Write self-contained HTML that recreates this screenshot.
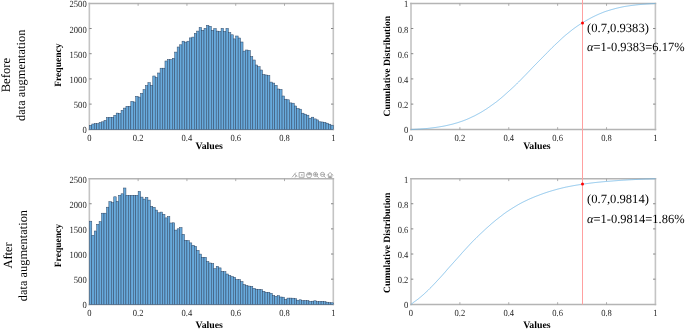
<!DOCTYPE html>
<html><head><meta charset="utf-8"><style>
html,body{margin:0;padding:0;background:#fff;width:685px;height:329px;overflow:hidden}
svg{display:block;text-rendering:geometricPrecision}
#w{width:685px;height:329px}
</style></head><body><div id="w"><svg width="685" height="329" viewBox="0 0 685 329"><rect width="685" height="329" fill="#fff"/><path d="M89.35,2.7V130.3M333.3,2.7V130.3" stroke="#c4c4c4" stroke-width="1.6" fill="none"/><path d="M88.55,3.5H334.1M88.55,129.5H334.1" stroke="#b4b4b4" stroke-width="1.6" fill="none"/><g stroke="#9a9a9a" stroke-width="0.8" fill="none"><line x1="138.14" y1="129.5" x2="138.14" y2="127.2"/><line x1="138.14" y1="3.5" x2="138.14" y2="5.8"/><line x1="186.93" y1="129.5" x2="186.93" y2="127.2"/><line x1="186.93" y1="3.5" x2="186.93" y2="5.8"/><line x1="235.72" y1="129.5" x2="235.72" y2="127.2"/><line x1="235.72" y1="3.5" x2="235.72" y2="5.8"/><line x1="284.51" y1="129.5" x2="284.51" y2="127.2"/><line x1="284.51" y1="3.5" x2="284.51" y2="5.8"/></g><g stroke="#858585" stroke-width="1" fill="none"><line x1="89.35" y1="104.1" x2="91.65" y2="104.1"/><line x1="333.3" y1="104.1" x2="331" y2="104.1"/><line x1="89.35" y1="78.9" x2="91.65" y2="78.9"/><line x1="333.3" y1="78.9" x2="331" y2="78.9"/><line x1="89.35" y1="53.7" x2="91.65" y2="53.7"/><line x1="333.3" y1="53.7" x2="331" y2="53.7"/><line x1="89.35" y1="28.5" x2="91.65" y2="28.5"/><line x1="333.3" y1="28.5" x2="331" y2="28.5"/></g><g font-family='"Liberation Serif", "Times New Roman", serif' font-size="9.4" fill="#262626"><text transform="translate(86.65,133.3) scale(0.91,1)" text-anchor="end">0</text><text transform="translate(86.65,108.1) scale(0.91,1)" text-anchor="end">500</text><text transform="translate(86.65,82.9) scale(0.91,1)" text-anchor="end">1000</text><text transform="translate(86.65,57.7) scale(0.91,1)" text-anchor="end">1500</text><text transform="translate(86.65,32.5) scale(0.91,1)" text-anchor="end">2000</text><text transform="translate(86.65,7.3) scale(0.91,1)" text-anchor="end">2500</text><text transform="translate(89.35,140.8) scale(0.91,1)" text-anchor="middle">0</text><text transform="translate(138.14,140.8) scale(0.91,1)" text-anchor="middle">0.2</text><text transform="translate(186.93,140.8) scale(0.91,1)" text-anchor="middle">0.4</text><text transform="translate(235.72,140.8) scale(0.91,1)" text-anchor="middle">0.6</text><text transform="translate(284.51,140.8) scale(0.91,1)" text-anchor="middle">0.8</text><text transform="translate(333.3,140.8) scale(0.91,1)" text-anchor="middle">1</text></g><g fill="#68aadc" stroke="#2e4664" stroke-width="0.5"><rect x="89.35" y="125.4" width="2.44" height="4.1"/><rect x="91.79" y="124" width="2.44" height="5.5"/><rect x="94.23" y="123.6" width="2.44" height="5.9"/><rect x="96.67" y="123.6" width="2.44" height="5.9"/><rect x="99.11" y="122.5" width="2.44" height="7"/><rect x="101.55" y="121.8" width="2.44" height="7.7"/><rect x="103.99" y="120.4" width="2.44" height="9.1"/><rect x="106.43" y="117.6" width="2.44" height="11.9"/><rect x="108.87" y="117.3" width="2.44" height="12.2"/><rect x="111.31" y="117.3" width="2.44" height="12.2"/><rect x="113.75" y="115.3" width="2.44" height="14.2"/><rect x="116.18" y="113.1" width="2.44" height="16.4"/><rect x="118.62" y="113.5" width="2.44" height="16"/><rect x="121.06" y="110.3" width="2.44" height="19.2"/><rect x="123.5" y="108.1" width="2.44" height="21.4"/><rect x="125.94" y="106.3" width="2.44" height="23.2"/><rect x="128.38" y="106.3" width="2.44" height="23.2"/><rect x="130.82" y="101.4" width="2.44" height="28.1"/><rect x="133.26" y="102" width="2.44" height="27.5"/><rect x="135.7" y="96.3" width="2.44" height="33.2"/><rect x="138.14" y="97.1" width="2.44" height="32.4"/><rect x="140.58" y="93.4" width="2.44" height="36.1"/><rect x="143.02" y="89.6" width="2.44" height="39.9"/><rect x="145.46" y="85.6" width="2.44" height="43.9"/><rect x="147.9" y="82.7" width="2.44" height="46.8"/><rect x="150.34" y="85.3" width="2.44" height="44.2"/><rect x="152.78" y="76" width="2.44" height="53.5"/><rect x="155.22" y="77.4" width="2.44" height="52.1"/><rect x="157.66" y="73" width="2.44" height="56.5"/><rect x="160.1" y="68.2" width="2.44" height="61.3"/><rect x="162.53" y="68.2" width="2.44" height="61.3"/><rect x="164.97" y="61" width="2.44" height="68.5"/><rect x="167.41" y="59.6" width="2.44" height="69.9"/><rect x="169.85" y="59.6" width="2.44" height="69.9"/><rect x="172.29" y="58.3" width="2.44" height="71.2"/><rect x="174.73" y="52.1" width="2.44" height="77.4"/><rect x="177.17" y="47" width="2.44" height="82.5"/><rect x="179.61" y="44.8" width="2.44" height="84.7"/><rect x="182.05" y="41.2" width="2.44" height="88.3"/><rect x="184.49" y="42.1" width="2.44" height="87.4"/><rect x="186.93" y="41.2" width="2.44" height="88.3"/><rect x="189.37" y="37.9" width="2.44" height="91.6"/><rect x="191.81" y="37.1" width="2.44" height="92.4"/><rect x="194.25" y="33.4" width="2.44" height="96.1"/><rect x="196.69" y="31.1" width="2.44" height="98.4"/><rect x="199.13" y="27.5" width="2.44" height="102"/><rect x="201.57" y="30.3" width="2.44" height="99.2"/><rect x="204.01" y="28.4" width="2.44" height="101.1"/><rect x="206.45" y="25.3" width="2.44" height="104.2"/><rect x="208.89" y="26.3" width="2.44" height="103.2"/><rect x="211.32" y="30.3" width="2.44" height="99.2"/><rect x="213.76" y="28.6" width="2.44" height="100.9"/><rect x="216.2" y="31.1" width="2.44" height="98.4"/><rect x="218.64" y="31.4" width="2.44" height="98.1"/><rect x="221.08" y="28.4" width="2.44" height="101.1"/><rect x="223.52" y="31.4" width="2.44" height="98.1"/><rect x="225.96" y="28.4" width="2.44" height="101.1"/><rect x="228.4" y="32.7" width="2.44" height="96.8"/><rect x="230.84" y="34.8" width="2.44" height="94.7"/><rect x="233.28" y="38.9" width="2.44" height="90.6"/><rect x="235.72" y="36" width="2.44" height="93.5"/><rect x="238.16" y="38" width="2.44" height="91.5"/><rect x="240.6" y="42" width="2.44" height="87.5"/><rect x="243.04" y="51.1" width="2.44" height="78.4"/><rect x="245.48" y="50" width="2.44" height="79.5"/><rect x="247.92" y="50.5" width="2.44" height="79"/><rect x="250.36" y="56.6" width="2.44" height="72.9"/><rect x="252.8" y="60" width="2.44" height="69.5"/><rect x="255.24" y="65" width="2.44" height="64.5"/><rect x="257.68" y="66.7" width="2.44" height="62.8"/><rect x="260.12" y="70" width="2.44" height="59.5"/><rect x="262.55" y="74.5" width="2.44" height="55"/><rect x="264.99" y="75" width="2.44" height="54.5"/><rect x="267.43" y="75.5" width="2.44" height="54"/><rect x="269.87" y="82.1" width="2.44" height="47.4"/><rect x="272.31" y="83.1" width="2.44" height="46.4"/><rect x="274.75" y="85.3" width="2.44" height="44.2"/><rect x="277.19" y="89" width="2.44" height="40.5"/><rect x="279.63" y="89.4" width="2.44" height="40.1"/><rect x="282.07" y="96" width="2.44" height="33.5"/><rect x="284.51" y="99.2" width="2.44" height="30.3"/><rect x="286.95" y="99.8" width="2.44" height="29.7"/><rect x="289.39" y="102.9" width="2.44" height="26.6"/><rect x="291.83" y="103.2" width="2.44" height="26.3"/><rect x="294.27" y="106" width="2.44" height="23.5"/><rect x="296.71" y="108.5" width="2.44" height="21"/><rect x="299.15" y="109.2" width="2.44" height="20.3"/><rect x="301.59" y="113.2" width="2.44" height="16.3"/><rect x="304.03" y="114.2" width="2.44" height="15.3"/><rect x="306.47" y="115.2" width="2.44" height="14.3"/><rect x="308.9" y="118.2" width="2.44" height="11.3"/><rect x="311.34" y="117.2" width="2.44" height="12.3"/><rect x="313.78" y="118.9" width="2.44" height="10.6"/><rect x="316.22" y="119.9" width="2.44" height="9.6"/><rect x="318.66" y="121.8" width="2.44" height="7.7"/><rect x="321.1" y="122" width="2.44" height="7.5"/><rect x="323.54" y="122.3" width="2.44" height="7.2"/><rect x="325.98" y="123.2" width="2.44" height="6.3"/><rect x="328.42" y="124.2" width="2.44" height="5.3"/><rect x="330.86" y="125.2" width="2.44" height="4.3"/></g><path d="M89.35,178V305.3M333.3,178V305.3" stroke="#c4c4c4" stroke-width="1.6" fill="none"/><path d="M88.55,178.8H334.1M88.55,304.5H334.1" stroke="#b4b4b4" stroke-width="1.6" fill="none"/><g stroke="#9a9a9a" stroke-width="0.8" fill="none"><line x1="138.14" y1="304.5" x2="138.14" y2="302.2"/><line x1="138.14" y1="178.8" x2="138.14" y2="181.1"/><line x1="186.93" y1="304.5" x2="186.93" y2="302.2"/><line x1="186.93" y1="178.8" x2="186.93" y2="181.1"/><line x1="235.72" y1="304.5" x2="235.72" y2="302.2"/><line x1="235.72" y1="178.8" x2="235.72" y2="181.1"/><line x1="284.51" y1="304.5" x2="284.51" y2="302.2"/><line x1="284.51" y1="178.8" x2="284.51" y2="181.1"/></g><g stroke="#858585" stroke-width="1" fill="none"><line x1="89.35" y1="279.16" x2="91.65" y2="279.16"/><line x1="333.3" y1="279.16" x2="331" y2="279.16"/><line x1="89.35" y1="254.02" x2="91.65" y2="254.02"/><line x1="333.3" y1="254.02" x2="331" y2="254.02"/><line x1="89.35" y1="228.88" x2="91.65" y2="228.88"/><line x1="333.3" y1="228.88" x2="331" y2="228.88"/><line x1="89.35" y1="203.74" x2="91.65" y2="203.74"/><line x1="333.3" y1="203.74" x2="331" y2="203.74"/></g><g font-family='"Liberation Serif", "Times New Roman", serif' font-size="9.4" fill="#262626"><text transform="translate(86.65,308.2) scale(0.91,1)" text-anchor="end">0</text><text transform="translate(86.65,283.06) scale(0.91,1)" text-anchor="end">500</text><text transform="translate(86.65,257.92) scale(0.91,1)" text-anchor="end">1000</text><text transform="translate(86.65,232.78) scale(0.91,1)" text-anchor="end">1500</text><text transform="translate(86.65,207.64) scale(0.91,1)" text-anchor="end">2000</text><text transform="translate(86.65,182.5) scale(0.91,1)" text-anchor="end">2500</text><text transform="translate(89.35,315.8) scale(0.91,1)" text-anchor="middle">0</text><text transform="translate(138.14,315.8) scale(0.91,1)" text-anchor="middle">0.2</text><text transform="translate(186.93,315.8) scale(0.91,1)" text-anchor="middle">0.4</text><text transform="translate(235.72,315.8) scale(0.91,1)" text-anchor="middle">0.6</text><text transform="translate(284.51,315.8) scale(0.91,1)" text-anchor="middle">0.8</text><text transform="translate(333.3,315.8) scale(0.91,1)" text-anchor="middle">1</text></g><g fill="#68aadc" stroke="#2e4664" stroke-width="0.5"><rect x="89.35" y="221.2" width="2.44" height="83.3"/><rect x="91.79" y="235.3" width="2.44" height="69.2"/><rect x="94.23" y="231" width="2.44" height="73.5"/><rect x="96.67" y="224.3" width="2.44" height="80.2"/><rect x="99.11" y="221.7" width="2.44" height="82.8"/><rect x="101.55" y="213.2" width="2.44" height="91.3"/><rect x="103.99" y="213.2" width="2.44" height="91.3"/><rect x="106.43" y="207.2" width="2.44" height="97.3"/><rect x="108.87" y="201.7" width="2.44" height="102.8"/><rect x="111.31" y="202.6" width="2.44" height="101.9"/><rect x="113.75" y="196.8" width="2.44" height="107.7"/><rect x="116.18" y="201.4" width="2.44" height="103.1"/><rect x="118.62" y="195.3" width="2.44" height="109.2"/><rect x="121.06" y="193.8" width="2.44" height="110.7"/><rect x="123.5" y="188" width="2.44" height="116.5"/><rect x="125.94" y="195.3" width="2.44" height="109.2"/><rect x="128.38" y="195.3" width="2.44" height="109.2"/><rect x="130.82" y="195.3" width="2.44" height="109.2"/><rect x="133.26" y="195.3" width="2.44" height="109.2"/><rect x="135.7" y="195.3" width="2.44" height="109.2"/><rect x="138.14" y="191.5" width="2.44" height="113"/><rect x="140.58" y="197.1" width="2.44" height="107.4"/><rect x="143.02" y="199.1" width="2.44" height="105.4"/><rect x="145.46" y="197.5" width="2.44" height="107"/><rect x="147.9" y="200.1" width="2.44" height="104.4"/><rect x="150.34" y="206.4" width="2.44" height="98.1"/><rect x="152.78" y="207.3" width="2.44" height="97.2"/><rect x="155.22" y="210.1" width="2.44" height="94.4"/><rect x="157.66" y="212.8" width="2.44" height="91.7"/><rect x="160.1" y="212.1" width="2.44" height="92.4"/><rect x="162.53" y="214.3" width="2.44" height="90.2"/><rect x="164.97" y="217.9" width="2.44" height="86.6"/><rect x="167.41" y="216.6" width="2.44" height="87.9"/><rect x="169.85" y="223" width="2.44" height="81.5"/><rect x="172.29" y="222.8" width="2.44" height="81.7"/><rect x="174.73" y="230.1" width="2.44" height="74.4"/><rect x="177.17" y="228.8" width="2.44" height="75.7"/><rect x="179.61" y="227.6" width="2.44" height="76.9"/><rect x="182.05" y="234.3" width="2.44" height="70.2"/><rect x="184.49" y="240.3" width="2.44" height="64.2"/><rect x="186.93" y="240.7" width="2.44" height="63.8"/><rect x="189.37" y="242.9" width="2.44" height="61.6"/><rect x="191.81" y="245.3" width="2.44" height="59.2"/><rect x="194.25" y="246.4" width="2.44" height="58.1"/><rect x="196.69" y="250.4" width="2.44" height="54.1"/><rect x="199.13" y="254.1" width="2.44" height="50.4"/><rect x="201.57" y="257.3" width="2.44" height="47.2"/><rect x="204.01" y="257.3" width="2.44" height="47.2"/><rect x="206.45" y="261.5" width="2.44" height="43"/><rect x="208.89" y="263" width="2.44" height="41.5"/><rect x="211.32" y="263.6" width="2.44" height="40.9"/><rect x="213.76" y="268.7" width="2.44" height="35.8"/><rect x="216.2" y="266.4" width="2.44" height="38.1"/><rect x="218.64" y="267.9" width="2.44" height="36.6"/><rect x="221.08" y="271.4" width="2.44" height="33.1"/><rect x="223.52" y="271.7" width="2.44" height="32.8"/><rect x="225.96" y="274" width="2.44" height="30.5"/><rect x="228.4" y="275.5" width="2.44" height="29"/><rect x="230.84" y="276.6" width="2.44" height="27.9"/><rect x="233.28" y="277.3" width="2.44" height="27.2"/><rect x="235.72" y="279.6" width="2.44" height="24.9"/><rect x="238.16" y="279.6" width="2.44" height="24.9"/><rect x="240.6" y="281.6" width="2.44" height="22.9"/><rect x="243.04" y="284.6" width="2.44" height="19.9"/><rect x="245.48" y="285.5" width="2.44" height="19"/><rect x="247.92" y="286.1" width="2.44" height="18.4"/><rect x="250.36" y="286.4" width="2.44" height="18.1"/><rect x="252.8" y="288.4" width="2.44" height="16.1"/><rect x="255.24" y="289.2" width="2.44" height="15.3"/><rect x="257.68" y="289.3" width="2.44" height="15.2"/><rect x="260.12" y="289.7" width="2.44" height="14.8"/><rect x="262.55" y="291.3" width="2.44" height="13.2"/><rect x="264.99" y="292.3" width="2.44" height="12.2"/><rect x="267.43" y="292.3" width="2.44" height="12.2"/><rect x="269.87" y="293.3" width="2.44" height="11.2"/><rect x="272.31" y="295.5" width="2.44" height="9"/><rect x="274.75" y="296.3" width="2.44" height="8.2"/><rect x="277.19" y="295.7" width="2.44" height="8.8"/><rect x="279.63" y="297" width="2.44" height="7.5"/><rect x="282.07" y="297.2" width="2.44" height="7.3"/><rect x="284.51" y="299.3" width="2.44" height="5.2"/><rect x="286.95" y="298.1" width="2.44" height="6.4"/><rect x="289.39" y="298.1" width="2.44" height="6.4"/><rect x="291.83" y="298.2" width="2.44" height="6.3"/><rect x="294.27" y="298.7" width="2.44" height="5.8"/><rect x="296.71" y="300.2" width="2.44" height="4.3"/><rect x="299.15" y="299.8" width="2.44" height="4.7"/><rect x="301.59" y="300.6" width="2.44" height="3.9"/><rect x="304.03" y="300.6" width="2.44" height="3.9"/><rect x="306.47" y="300.6" width="2.44" height="3.9"/><rect x="308.9" y="301.4" width="2.44" height="3.1"/><rect x="311.34" y="301.2" width="2.44" height="3.3"/><rect x="313.78" y="300.8" width="2.44" height="3.7"/><rect x="316.22" y="301.7" width="2.44" height="2.8"/><rect x="318.66" y="301.4" width="2.44" height="3.1"/><rect x="321.1" y="301.4" width="2.44" height="3.1"/><rect x="323.54" y="301.7" width="2.44" height="2.8"/><rect x="325.98" y="302.2" width="2.44" height="2.3"/><rect x="328.42" y="302.6" width="2.44" height="1.9"/><rect x="330.86" y="302.8" width="2.44" height="1.7"/></g><path d="M411,2.7V130.3M655.4,2.7V130.3" stroke="#c4c4c4" stroke-width="1.6" fill="none"/><path d="M410.2,3.5H656.2M410.2,129.5H656.2" stroke="#b4b4b4" stroke-width="1.6" fill="none"/><g stroke="#9a9a9a" stroke-width="0.8" fill="none"><line x1="459.88" y1="129.5" x2="459.88" y2="127.2"/><line x1="459.88" y1="3.5" x2="459.88" y2="5.8"/><line x1="508.76" y1="129.5" x2="508.76" y2="127.2"/><line x1="508.76" y1="3.5" x2="508.76" y2="5.8"/><line x1="557.64" y1="129.5" x2="557.64" y2="127.2"/><line x1="557.64" y1="3.5" x2="557.64" y2="5.8"/><line x1="606.52" y1="129.5" x2="606.52" y2="127.2"/><line x1="606.52" y1="3.5" x2="606.52" y2="5.8"/></g><g stroke="#858585" stroke-width="1" fill="none"><line x1="411" y1="104.1" x2="413.3" y2="104.1"/><line x1="655.4" y1="104.1" x2="653.1" y2="104.1"/><line x1="411" y1="78.9" x2="413.3" y2="78.9"/><line x1="655.4" y1="78.9" x2="653.1" y2="78.9"/><line x1="411" y1="53.7" x2="413.3" y2="53.7"/><line x1="655.4" y1="53.7" x2="653.1" y2="53.7"/><line x1="411" y1="28.5" x2="413.3" y2="28.5"/><line x1="655.4" y1="28.5" x2="653.1" y2="28.5"/></g><g font-family='"Liberation Serif", "Times New Roman", serif' font-size="9.4" fill="#262626"><text transform="translate(408.3,133.3) scale(0.91,1)" text-anchor="end">0</text><text transform="translate(408.3,108.1) scale(0.91,1)" text-anchor="end">0.2</text><text transform="translate(408.3,82.9) scale(0.91,1)" text-anchor="end">0.4</text><text transform="translate(408.3,57.7) scale(0.91,1)" text-anchor="end">0.6</text><text transform="translate(408.3,32.5) scale(0.91,1)" text-anchor="end">0.8</text><text transform="translate(408.3,7.3) scale(0.91,1)" text-anchor="end">1</text><text transform="translate(411,140.8) scale(0.91,1)" text-anchor="middle">0</text><text transform="translate(459.88,140.8) scale(0.91,1)" text-anchor="middle">0.2</text><text transform="translate(508.76,140.8) scale(0.91,1)" text-anchor="middle">0.4</text><text transform="translate(557.64,140.8) scale(0.91,1)" text-anchor="middle">0.6</text><text transform="translate(606.52,140.8) scale(0.91,1)" text-anchor="middle">0.8</text><text transform="translate(655.4,140.8) scale(0.91,1)" text-anchor="middle">1</text></g><path d="M411,178V305.3M655.4,178V305.3" stroke="#c4c4c4" stroke-width="1.6" fill="none"/><path d="M410.2,178.8H656.2M410.2,304.5H656.2" stroke="#b4b4b4" stroke-width="1.6" fill="none"/><g stroke="#9a9a9a" stroke-width="0.8" fill="none"><line x1="459.88" y1="304.5" x2="459.88" y2="302.2"/><line x1="459.88" y1="178.8" x2="459.88" y2="181.1"/><line x1="508.76" y1="304.5" x2="508.76" y2="302.2"/><line x1="508.76" y1="178.8" x2="508.76" y2="181.1"/><line x1="557.64" y1="304.5" x2="557.64" y2="302.2"/><line x1="557.64" y1="178.8" x2="557.64" y2="181.1"/><line x1="606.52" y1="304.5" x2="606.52" y2="302.2"/><line x1="606.52" y1="178.8" x2="606.52" y2="181.1"/></g><g stroke="#858585" stroke-width="1" fill="none"><line x1="411" y1="279.16" x2="413.3" y2="279.16"/><line x1="655.4" y1="279.16" x2="653.1" y2="279.16"/><line x1="411" y1="254.02" x2="413.3" y2="254.02"/><line x1="655.4" y1="254.02" x2="653.1" y2="254.02"/><line x1="411" y1="228.88" x2="413.3" y2="228.88"/><line x1="655.4" y1="228.88" x2="653.1" y2="228.88"/><line x1="411" y1="203.74" x2="413.3" y2="203.74"/><line x1="655.4" y1="203.74" x2="653.1" y2="203.74"/></g><g font-family='"Liberation Serif", "Times New Roman", serif' font-size="9.4" fill="#262626"><text transform="translate(408.3,308.2) scale(0.91,1)" text-anchor="end">0</text><text transform="translate(408.3,283.06) scale(0.91,1)" text-anchor="end">0.2</text><text transform="translate(408.3,257.92) scale(0.91,1)" text-anchor="end">0.4</text><text transform="translate(408.3,232.78) scale(0.91,1)" text-anchor="end">0.6</text><text transform="translate(408.3,207.64) scale(0.91,1)" text-anchor="end">0.8</text><text transform="translate(408.3,182.5) scale(0.91,1)" text-anchor="end">1</text><text transform="translate(411,315.8) scale(0.91,1)" text-anchor="middle">0</text><text transform="translate(459.88,315.8) scale(0.91,1)" text-anchor="middle">0.2</text><text transform="translate(508.76,315.8) scale(0.91,1)" text-anchor="middle">0.4</text><text transform="translate(557.64,315.8) scale(0.91,1)" text-anchor="middle">0.6</text><text transform="translate(606.52,315.8) scale(0.91,1)" text-anchor="middle">0.8</text><text transform="translate(655.4,315.8) scale(0.91,1)" text-anchor="middle">1</text></g><polyline points="411,129.5 411.61,129.47 412.22,129.45 412.83,129.42 413.44,129.4 414.06,129.36 414.67,129.33 415.28,129.29 415.89,129.26 416.5,129.22 417.11,129.19 417.72,129.15 418.33,129.11 418.94,129.08 419.55,129.04 420.17,129 420.78,128.97 421.39,128.92 422,128.88 422.61,128.83 423.22,128.79 423.83,128.74 424.44,128.69 425.05,128.65 425.66,128.6 426.27,128.54 426.89,128.49 427.5,128.43 428.11,128.37 428.72,128.3 429.33,128.22 429.94,128.15 430.55,128.07 431.16,128 431.77,127.92 432.38,127.85 433,127.77 433.61,127.69 434.22,127.62 434.83,127.54 435.44,127.47 436.05,127.38 436.66,127.29 437.27,127.2 437.88,127.11 438.5,127.01 439.11,126.91 439.72,126.8 440.33,126.7 440.94,126.6 441.55,126.5 442.16,126.4 442.77,126.3 443.38,126.18 443.99,126.06 444.61,125.94 445.22,125.82 445.83,125.69 446.44,125.56 447.05,125.42 447.66,125.29 448.27,125.14 448.88,125 449.49,124.85 450.1,124.71 450.71,124.56 451.33,124.42 451.94,124.27 452.55,124.13 453.16,123.95 453.77,123.78 454.38,123.6 454.99,123.43 455.6,123.26 456.21,123.09 456.82,122.91 457.44,122.74 458.05,122.53 458.66,122.33 459.27,122.12 459.88,121.91 460.49,121.71 461.1,121.51 461.71,121.31 462.32,121.1 462.94,120.88 463.55,120.65 464.16,120.43 464.77,120.2 465.38,119.95 465.99,119.71 466.6,119.46 467.21,119.21 467.82,118.93 468.43,118.66 469.05,118.39 469.66,118.11 470.27,117.82 470.88,117.53 471.49,117.23 472.1,116.94 472.71,116.67 473.32,116.39 473.93,116.12 474.54,115.84 475.15,115.51 475.77,115.17 476.38,114.84 476.99,114.5 477.6,114.18 478.21,113.85 478.82,113.53 479.43,113.2 480.04,112.85 480.65,112.5 481.26,112.15 481.88,111.79 482.49,111.41 483.1,111.03 483.71,110.64 484.32,110.26 484.93,109.88 485.54,109.5 486.15,109.11 486.76,108.73 487.38,108.3 487.99,107.88 488.6,107.45 489.21,107.02 489.82,106.59 490.43,106.15 491.04,105.71 491.65,105.28 492.26,104.84 492.87,104.4 493.49,103.97 494.1,103.53 494.71,103.09 495.32,102.64 495.93,102.2 496.54,101.75 497.15,101.27 497.76,100.79 498.37,100.3 498.98,99.82 499.59,99.31 500.21,98.79 500.82,98.28 501.43,97.76 502.04,97.23 502.65,96.7 503.26,96.18 503.87,95.65 504.48,95.1 505.09,94.55 505.7,93.99 506.32,93.44 506.93,92.9 507.54,92.35 508.15,91.81 508.76,91.26 509.37,90.71 509.98,90.16 510.59,89.61 511.2,89.06 511.81,88.49 512.43,87.91 513.04,87.34 513.65,86.77 514.26,86.19 514.87,85.62 515.48,85.04 516.09,84.46 516.7,83.86 517.31,83.26 517.92,82.66 518.54,82.06 519.15,81.45 519.76,80.84 520.37,80.22 520.98,79.61 521.59,78.97 522.2,78.33 522.81,77.7 523.42,77.06 524.03,76.44 524.65,75.82 525.26,75.2 525.87,74.58 526.48,73.95 527.09,73.32 527.7,72.69 528.31,72.06 528.92,71.41 529.53,70.76 530.14,70.11 530.76,69.46 531.37,68.82 531.98,68.17 532.59,67.53 533.2,66.88 533.81,66.26 534.42,65.64 535.03,65.03 535.64,64.41 536.25,63.78 536.87,63.15 537.48,62.52 538.09,61.89 538.7,61.27 539.31,60.66 539.92,60.05 540.53,59.43 541.14,58.82 541.75,58.21 542.37,57.59 542.98,56.98 543.59,56.35 544.2,55.72 544.81,55.09 545.42,54.46 546.03,53.85 546.64,53.23 547.25,52.62 547.86,52.01 548.48,51.38 549.09,50.75 549.7,50.12 550.31,49.49 550.92,48.88 551.53,48.28 552.14,47.67 552.75,47.07 553.36,46.48 553.97,45.89 554.59,45.3 555.2,44.7 555.81,44.14 556.42,43.57 557.03,43.01 557.64,42.44 558.25,41.86 558.86,41.28 559.47,40.69 560.08,40.11 560.69,39.54 561.31,38.97 561.92,38.4 562.53,37.82 563.14,37.28 563.75,36.73 564.36,36.19 564.97,35.64 565.58,35.15 566.19,34.66 566.81,34.17 567.42,33.68 568.03,33.19 568.64,32.69 569.25,32.19 569.86,31.7 570.47,31.2 571.08,30.71 571.69,30.22 572.3,29.73 572.91,29.27 573.53,28.82 574.14,28.36 574.75,27.91 575.36,27.47 575.97,27.04 576.58,26.6 577.19,26.17 577.8,25.77 578.41,25.37 579.02,24.96 579.64,24.56 580.25,24.17 580.86,23.78 581.47,23.38 582.08,22.99 582.69,22.62 583.3,22.25 583.91,21.88 584.52,21.51 585.13,21.16 585.75,20.82 586.36,20.48 586.97,20.13 587.58,19.79 588.19,19.45 588.8,19.11 589.41,18.77 590.02,18.44 590.63,18.1 591.25,17.76 591.86,17.43 592.47,17.13 593.08,16.83 593.69,16.54 594.3,16.24 594.91,15.95 595.52,15.66 596.13,15.37 596.74,15.08 597.36,14.81 597.97,14.53 598.58,14.26 599.19,13.98 599.8,13.73 600.41,13.47 601.02,13.22 601.63,12.97 602.24,12.72 602.85,12.47 603.46,12.22 604.08,11.97 604.69,11.76 605.3,11.55 605.91,11.34 606.52,11.13 607.13,10.94 607.74,10.75 608.35,10.56 608.96,10.38 609.58,10.19 610.19,10 610.8,9.82 611.41,9.63 612.02,9.47 612.63,9.3 613.24,9.14 613.85,8.97 614.46,8.81 615.07,8.64 615.68,8.48 616.3,8.31 616.91,8.17 617.52,8.02 618.13,7.87 618.74,7.73 619.35,7.6 619.96,7.46 620.57,7.33 621.18,7.2 621.79,7.08 622.41,6.95 623.02,6.82 623.63,6.7 624.24,6.59 624.85,6.49 625.46,6.39 626.07,6.29 626.68,6.19 627.29,6.1 627.9,6 628.52,5.91 629.13,5.82 629.74,5.73 630.35,5.64 630.96,5.55 631.57,5.48 632.18,5.41 632.79,5.34 633.4,5.27 634.01,5.19 634.63,5.11 635.24,5.04 635.85,4.96 636.46,4.89 637.07,4.83 637.68,4.76 638.29,4.7 638.9,4.64 639.51,4.58 640.12,4.52 640.74,4.46 641.35,4.41 641.96,4.36 642.57,4.31 643.18,4.26 643.79,4.22 644.4,4.17 645.01,4.12 645.62,4.08 646.24,4.03 646.85,3.99 647.46,3.94 648.07,3.9 648.68,3.86 649.29,3.82 649.9,3.78 650.51,3.74 651.12,3.71 651.73,3.67 652.35,3.64 652.96,3.61 653.57,3.58 654.18,3.55 654.79,3.53 655.4,3.5" fill="none" stroke="#6fb6e6" stroke-width="0.8"/><polyline points="411,304.5 411.61,303.98 412.22,303.46 412.83,302.94 413.44,302.42 414.06,301.99 414.67,301.56 415.28,301.13 415.89,300.7 416.5,300.24 417.11,299.78 417.72,299.32 418.33,298.86 418.94,298.36 419.55,297.86 420.17,297.36 420.78,296.86 421.39,296.35 422,295.83 422.61,295.31 423.22,294.8 423.83,294.23 424.44,293.66 425.05,293.09 425.66,292.52 426.27,291.95 426.89,291.38 427.5,290.81 428.11,290.24 428.72,289.64 429.33,289.03 429.94,288.42 430.55,287.82 431.16,287.17 431.77,286.53 432.38,285.89 433,285.25 433.61,284.62 434.22,283.98 434.83,283.35 435.44,282.71 436.05,282.04 436.66,281.37 437.27,280.7 437.88,280.02 438.5,279.38 439.11,278.74 439.72,278.1 440.33,277.45 440.94,276.77 441.55,276.09 442.16,275.41 442.77,274.73 443.38,274.04 443.99,273.35 444.61,272.66 445.22,271.97 445.83,271.24 446.44,270.51 447.05,269.79 447.66,269.06 448.27,268.38 448.88,267.7 449.49,267.02 450.1,266.34 450.71,265.66 451.33,264.98 451.94,264.3 452.55,263.61 453.16,262.93 453.77,262.25 454.38,261.57 454.99,260.89 455.6,260.21 456.21,259.53 456.82,258.85 457.44,258.17 458.05,257.49 458.66,256.8 459.27,256.12 459.88,255.44 460.49,254.74 461.1,254.03 461.71,253.33 462.32,252.62 462.94,251.95 463.55,251.29 464.16,250.62 464.77,249.95 465.38,249.29 465.99,248.63 466.6,247.97 467.21,247.32 467.82,246.65 468.43,245.98 469.05,245.32 469.66,244.65 470.27,244 470.88,243.35 471.49,242.69 472.1,242.04 472.71,241.43 473.32,240.82 473.93,240.21 474.54,239.6 475.15,238.99 475.77,238.38 476.38,237.78 476.99,237.17 477.6,236.58 478.21,236 478.82,235.41 479.43,234.82 480.04,234.25 480.65,233.67 481.26,233.1 481.88,232.53 482.49,231.95 483.1,231.38 483.71,230.8 484.32,230.23 484.93,229.66 485.54,229.1 486.15,228.54 486.76,227.98 487.38,227.44 487.99,226.9 488.6,226.36 489.21,225.82 489.82,225.27 490.43,224.72 491.04,224.17 491.65,223.62 492.26,223.12 492.87,222.61 493.49,222.1 494.1,221.59 494.71,221.08 495.32,220.57 495.93,220.06 496.54,219.55 497.15,219.09 497.76,218.63 498.37,218.16 498.98,217.7 499.59,217.23 500.21,216.75 500.82,216.28 501.43,215.81 502.04,215.33 502.65,214.85 503.26,214.37 503.87,213.89 504.48,213.45 505.09,213.02 505.7,212.58 506.32,212.14 506.93,211.74 507.54,211.34 508.15,210.94 508.76,210.54 509.37,210.14 509.98,209.74 510.59,209.35 511.2,208.95 511.81,208.56 512.43,208.18 513.04,207.8 513.65,207.41 514.26,207.04 514.87,206.67 515.48,206.3 516.09,205.93 516.7,205.57 517.31,205.21 517.92,204.85 518.54,204.49 519.15,204.15 519.76,203.81 520.37,203.47 520.98,203.14 521.59,202.82 522.2,202.51 522.81,202.19 523.42,201.88 524.03,201.58 524.65,201.29 525.26,201 525.87,200.7 526.48,200.41 527.09,200.11 527.7,199.82 528.31,199.52 528.92,199.26 529.53,198.99 530.14,198.72 530.76,198.45 531.37,198.19 531.98,197.93 532.59,197.68 533.2,197.42 533.81,197.16 534.42,196.91 535.03,196.65 535.64,196.4 536.25,196.17 536.87,195.95 537.48,195.73 538.09,195.5 538.7,195.27 539.31,195.03 539.92,194.79 540.53,194.55 541.14,194.33 541.75,194.1 542.37,193.87 542.98,193.64 543.59,193.43 544.2,193.23 544.81,193.02 545.42,192.81 546.03,192.61 546.64,192.41 547.25,192.2 547.86,192 548.48,191.81 549.09,191.62 549.7,191.43 550.31,191.24 550.92,191.06 551.53,190.87 552.14,190.69 552.75,190.51 553.36,190.34 553.97,190.16 554.59,189.99 555.2,189.82 555.81,189.65 556.42,189.48 557.03,189.31 557.64,189.14 558.25,188.98 558.86,188.83 559.47,188.67 560.08,188.52 560.69,188.36 561.31,188.21 561.92,188.05 562.53,187.9 563.14,187.75 563.75,187.61 564.36,187.47 564.97,187.33 565.58,187.2 566.19,187.08 566.81,186.95 567.42,186.83 568.03,186.71 568.64,186.59 569.25,186.47 569.86,186.35 570.47,186.24 571.08,186.13 571.69,186.01 572.3,185.9 572.91,185.78 573.53,185.67 574.14,185.56 574.75,185.44 575.36,185.34 575.97,185.24 576.58,185.14 577.19,185.04 577.8,184.95 578.41,184.85 579.02,184.76 579.64,184.66 580.25,184.57 580.86,184.47 581.47,184.38 582.08,184.28 582.69,184.19 583.3,184.1 583.91,184 584.52,183.91 585.13,183.83 585.75,183.74 586.36,183.66 586.97,183.57 587.58,183.49 588.19,183.41 588.8,183.33 589.41,183.25 590.02,183.17 590.63,183.09 591.25,183.01 591.86,182.93 592.47,182.86 593.08,182.78 593.69,182.7 594.3,182.63 594.91,182.57 595.52,182.5 596.13,182.44 596.74,182.38 597.36,182.32 597.97,182.26 598.58,182.2 599.19,182.14 599.8,182.08 600.41,182.02 601.02,181.95 601.63,181.89 602.24,181.83 602.85,181.78 603.46,181.72 604.08,181.67 604.69,181.61 605.3,181.55 605.91,181.5 606.52,181.44 607.13,181.4 607.74,181.36 608.35,181.32 608.96,181.27 609.58,181.22 610.19,181.17 610.8,181.12 611.41,181.07 612.02,181.02 612.63,180.97 613.24,180.92 613.85,180.87 614.46,180.82 615.07,180.76 615.68,180.71 616.3,180.66 616.91,180.62 617.52,180.57 618.13,180.52 618.74,180.47 619.35,180.43 619.96,180.4 620.57,180.36 621.18,180.32 621.79,180.28 622.41,180.24 623.02,180.2 623.63,180.16 624.24,180.12 624.85,180.09 625.46,180.05 626.07,180.02 626.68,179.98 627.29,179.94 627.9,179.91 628.52,179.87 629.13,179.84 629.74,179.8 630.35,179.77 630.96,179.74 631.57,179.71 632.18,179.68 632.79,179.65 633.4,179.62 634.01,179.59 634.63,179.56 635.24,179.53 635.85,179.5 636.46,179.47 637.07,179.43 637.68,179.4 638.29,179.37 638.9,179.35 639.51,179.32 640.12,179.29 640.74,179.27 641.35,179.24 641.96,179.22 642.57,179.19 643.18,179.16 643.79,179.14 644.4,179.11 645.01,179.09 645.62,179.06 646.24,179.04 646.85,179.02 647.46,179 648.07,178.97 648.68,178.96 649.29,178.94 649.9,178.92 650.51,178.9 651.12,178.89 651.73,178.87 652.35,178.86 652.96,178.85 653.57,178.83 654.18,178.82 654.79,178.81 655.4,178.8" fill="none" stroke="#6fb6e6" stroke-width="0.8"/><line x1="582.5" y1="0" x2="582.5" y2="304.5" stroke="#ffa0a0" stroke-width="1"/><circle cx="582.5" cy="22.99" r="1.5" fill="#ff0000"/><circle cx="582.5" cy="184.1" r="1.5" fill="#ff0000"/><g font-family='"Liberation Serif", "Times New Roman", serif' font-size="12.6" fill="#000"><text x="587" y="31.7">(0.7,0.9383)</text><text x="587" y="50.9" textLength="97.6" lengthAdjust="spacingAndGlyphs"><tspan font-style="italic">α</tspan>=1-0.9383=6.17%</text><text x="587" y="203.1">(0.7,0.9814)</text><text x="587" y="222.6" textLength="97.6" lengthAdjust="spacingAndGlyphs"><tspan font-style="italic">α</tspan>=1-0.9814=1.86%</text></g><text transform="translate(61,65.15) rotate(-90)" text-anchor="middle" font-family='"Liberation Serif", "Times New Roman", serif' font-size="9.55" font-weight="bold" fill="#000">Frequency</text><text transform="translate(61,245.6) rotate(-90)" text-anchor="middle" font-family='"Liberation Serif", "Times New Roman", serif' font-size="9.55" font-weight="bold" fill="#000">Frequency</text><text transform="translate(390.3,66.15) rotate(-90)" text-anchor="middle" font-family='"Liberation Serif", "Times New Roman", serif' font-size="9.6" font-weight="bold" fill="#000">Cumulative Distribution</text><text transform="translate(390.3,242.8) rotate(-90)" text-anchor="middle" font-family='"Liberation Serif", "Times New Roman", serif' font-size="9.6" font-weight="bold" fill="#000">Cumulative Distribution</text><text x="209.2" y="148.8" text-anchor="middle" font-family='"Liberation Serif", "Times New Roman", serif' font-size="9.8" font-weight="bold" fill="#000">Values</text><text x="209.2" y="327.9" text-anchor="middle" font-family='"Liberation Serif", "Times New Roman", serif' font-size="9.8" font-weight="bold" fill="#000">Values</text><text x="536.9" y="149.1" text-anchor="middle" font-family='"Liberation Serif", "Times New Roman", serif' font-size="9.8" font-weight="bold" fill="#000">Values</text><text x="536.9" y="327.9" text-anchor="middle" font-family='"Liberation Serif", "Times New Roman", serif' font-size="9.8" font-weight="bold" fill="#000">Values</text><text transform="translate(10,75.1) rotate(-90)" text-anchor="middle" font-family='"Liberation Serif", "Times New Roman", serif' font-size="12.7" font-weight="normal" fill="#000">Before</text><text transform="translate(24.9,75.3) rotate(-90)" text-anchor="middle" font-family='"Liberation Serif", "Times New Roman", serif' font-size="12.42" font-weight="normal" fill="#000">data augmentation</text><text transform="translate(12.3,255.4) rotate(-90)" text-anchor="middle" font-family='"Liberation Serif", "Times New Roman", serif' font-size="12.5" font-weight="normal" fill="#000">After</text><text transform="translate(26.7,255.6) rotate(-90)" text-anchor="middle" font-family='"Liberation Serif", "Times New Roman", serif' font-size="12.42" font-weight="normal" fill="#000">data augmentation</text><g fill="none" stroke="#9a9a9a" stroke-width="0.8" stroke-linecap="round" stroke-linejoin="round">
<path d="M292.3,177 L294.6,174.2 L296.2,175.4 L295.2,177.2 M294.6,174.2 L295.6,172.9 M296.2,175.4 L297,176.6"/>
<rect x="299.5" y="172.5" width="4.6" height="4.8"/>
<rect x="301.2" y="174.3" width="1.3" height="1.3" fill="#9a9a9a" stroke="none"/>
<path d="M307.4,177.3 L306.4,175.4 L306.6,174.3 L307.3,174.8 L307.3,173.2 Q307.8,172.3 308.4,173.1 Q308.9,172 309.5,172.9 Q310.1,172.1 310.6,173.2 Q311.4,172.9 311.6,173.9 L311.5,175.8 L310.6,177.3 Z M308.4,173.1 L308.4,174.8 M309.5,172.9 L309.5,174.8 M310.6,173.2 L310.6,174.8"/>
<circle cx="315.5" cy="174.4" r="2.1"/>
<path d="M317,176 L318.4,177.5 M314.5,174.4 L316.5,174.4 M315.5,173.4 L315.5,175.4"/>
<circle cx="322.5" cy="174.4" r="2.1"/>
<path d="M324,176 L325.4,177.5 M321.5,174.4 L323.5,174.4"/>
<path d="M327.4,175.2 L330.1,172.4 L332.8,175.2 M328.4,174.4 L328.4,177.6 L331.8,177.6 L331.8,174.4 M329.6,177.6 L329.6,176 L330.6,176 L330.6,177.6"/>
</g></svg></div></body></html>
